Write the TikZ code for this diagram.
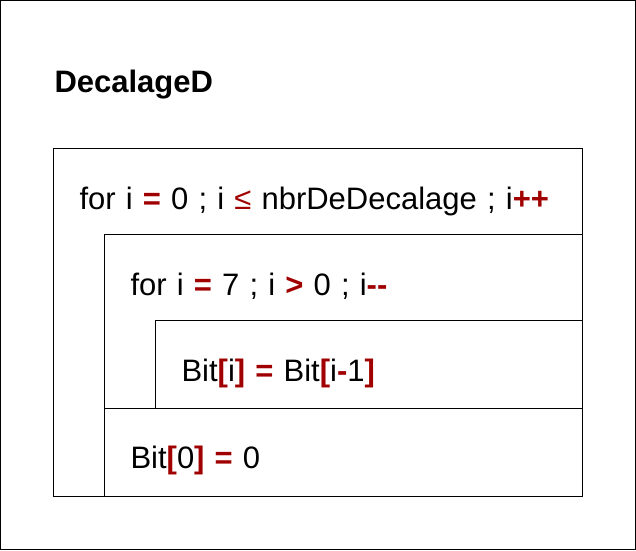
\documentclass[tikz,border=0pt]{standalone}
\usepackage{fontspec}
\setmainfont{Liberation Sans}[WordSpace=1.18]
\definecolor{opred}{RGB}{160,0,0}
\newcommand{\op}[1]{\textcolor{opred}{\textbf{#1}}}

\begin{document}
\begin{tikzpicture}[x=1pt, y=-1pt, line width=1pt,
    code/.style={inner sep=0pt, anchor=base west, font=\fontsize{31}{36}\selectfont},
    titletext/.style={inner sep=0pt, anchor=base west, font=\fontsize{31}{36}\selectfont\bfseries}]
    \useasboundingbox (0,0) rectangle (636,550);
    % Draw frame
    \draw (0.5,0.5) rectangle (635.5,549.5);
    \node[titletext] (title) at (54,92) {DecalageD};

    % Draw blocks
    \draw (53,148) rectangle (582,496);
    \draw (104,234) rectangle (582,496);
    \draw (155,320) rectangle (582,408);
    \draw (104,408) -- (582,408);

    % Code lines
    \node[code] (outerloop) at (79,209) {for i \op{=} 0 ; i \textcolor{opred}{≤} nbrDeDecalage ; i\op{++}};
    \node[code] (innerloop) at (130,295) {for i \op{=} 7 ; i \op{>} 0 ; i\op{-{}-}};
    \node[code] (shift) at (181,381) {Bit\op{[}i\op{]} \op{=} Bit\op{[}i\op{-}1\op{]}};
    \node[code] (reset) at (130,468) {Bit\op{[}0\op{]} \op{=} 0};
\end{tikzpicture}
\end{document}
